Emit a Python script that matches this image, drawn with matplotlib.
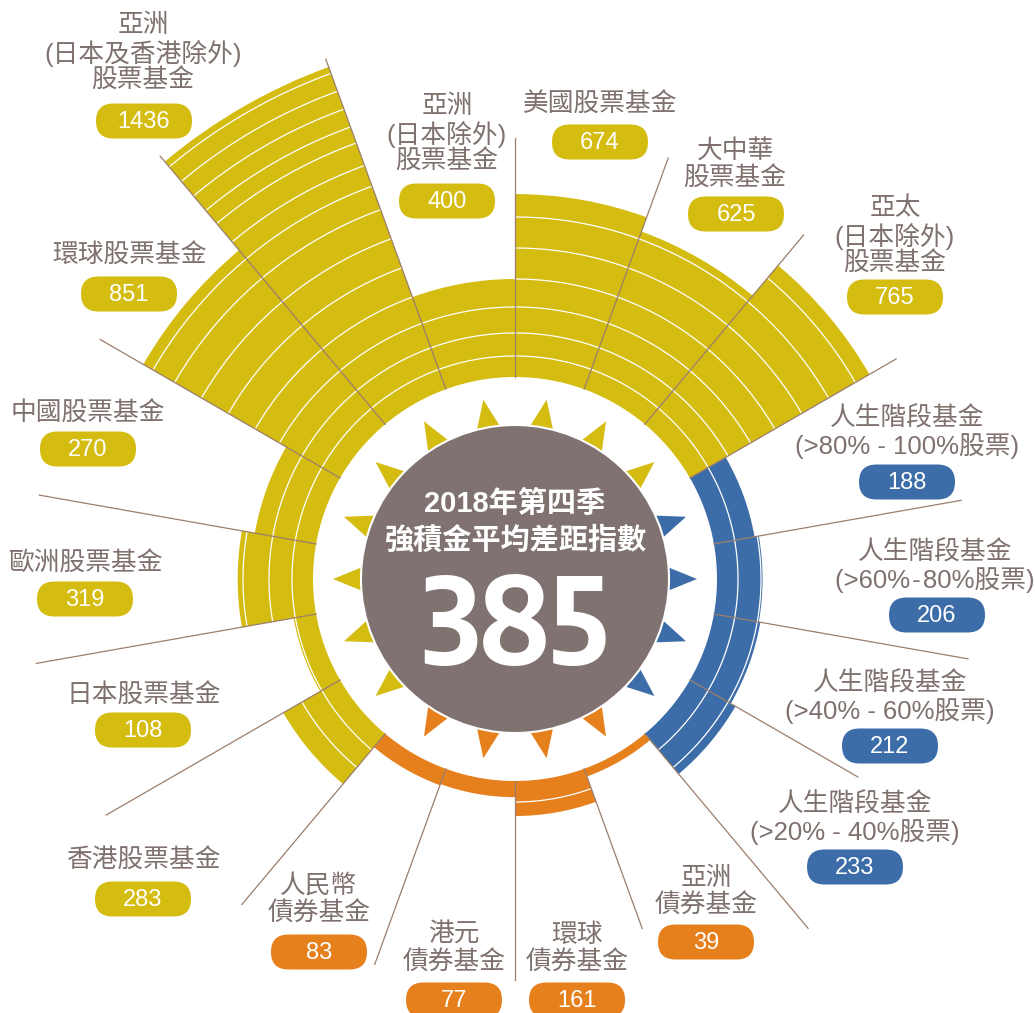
import numpy as np
import matplotlib
matplotlib.use("Agg")
import matplotlib.pyplot as plt
from matplotlib import font_manager
from matplotlib.font_manager import FontProperties
from matplotlib.textpath import TextPath
from matplotlib.patches import Circle, Polygon, FancyBboxPatch

# MPF fund categories, clockwise from 12 o'clock
funds = ["美國股票基金", "大中華股票基金", "亞太(日本除外)股票基金",
         "人生階段基金(>80% - 100%股票)", "人生階段基金(>60% - 80%股票)",
         "人生階段基金(>40% - 60%股票)", "人生階段基金(>20% - 40%股票)",
         "亞洲債券基金", "環球債券基金", "港元債券基金", "人民幣債券基金",
         "香港股票基金", "日本股票基金", "歐洲股票基金", "中國股票基金",
         "環球股票基金", "亞洲(日本及香港除外)股票基金", "亞洲(日本除外)股票基金"]
values = [674, 625, 765, 188, 206, 212, 233, 39, 161, 77, 83,
          283, 108, 319, 270, 851, 1436, 400]
groups = ["equity"] * 3 + ["lifestyle"] * 4 + ["bond"] * 4 + ["equity"] * 7
label_lines = [
    ["美國股票基金"],
    ["大中華", "股票基金"],
    ["亞太", "(日本除外)", "股票基金"],
    ["人生階段基金", "(>80% - 100%股票)"],
    ["人生階段基金", "(>60%\u200a-\u200a80%股票)"],
    ["人生階段基金", "(>40% - 60%股票)"],
    ["人生階段基金", "(>20% - 40%股票)"],
    ["亞洲", "債券基金"],
    ["環球", "債券基金"],
    ["港元", "債券基金"],
    ["人民幣", "債券基金"],
    ["香港股票基金"],
    ["日本股票基金"],
    ["歐洲股票基金"],
    ["中國股票基金"],
    ["環球股票基金"],
    ["亞洲", "(日本及香港除外)", "股票基金"],
    ["亞洲", "(日本除外)", "股票基金"],
]
title_lines = ["2018年第四季", "強積金平均差距指數"]
index_value = 385

# ---- layout (pixels, image coords with y going down) ----
W, H = 1035, 1013
CX, CY = 515, 579
R_AX = 560
RING_STEP = 100
# radius of every 100-point ring as drawn in the original (not quite linear)
RING_PX = np.array([202, 223, 246, 272, 300, 331, 362, 393, 418, 440,
                    464, 481, 500, 519, 538], dtype=float)
RING_V = np.arange(len(RING_PX)) * RING_STEP

label_xy = [(600, 105), (735, 151), (895, 208), (907, 418), (935, 552), (890, 683),
            (855, 804), (706, 878), (577, 935), (454, 935), (319, 886), (143, 861),
            (144, 696), (86, 564), (88, 414), (130, 256), (143, 25), (447, 106)]
pill_xy = [(600, 142), (736, 214), (895, 297), (907, 482), (937, 615), (890, 746),
           (855, 867), (706, 942), (577, 1000), (454, 1000), (319, 952), (143, 899),
           (143, 730), (85, 599), (88, 449), (129, 294), (144, 121), (447, 201)]
LINE_GAP = 28
PILL_W, PILL_H = 96, 35
# outer end of the separator line at each sector boundary (90, 70, 50 ... deg)
sep_end = [441, 448, 449, 440, 453, 460, 396, 456, 372, 401,
           410, 425, 472, 486, 483, 479, 552, 553]
BIG_H, BIG_W = 92, 182   # ink size of the big index number, px

COLORS = {"equity": "#D4BC10", "lifestyle": "#3D6DA8", "bond": "#E5801D"}
GREY = "#807270"
TEXT = "#7F716D"
SEP = "#9B7E6C"
LBL_FONT = ["Liberation Sans", "Noto Sans CJK TC"]


def big_number_font(s):
    # plain-bold sans whose proportions come closest to the original's narrow digits
    target = BIG_W / BIG_H
    best = None
    for f in font_manager.fontManager.ttflist:
        nm = f.name.lower()
        w = f.weight if isinstance(f.weight, int) else font_manager.weight_dict.get(f.weight, 400)
        if not 700 <= w <= 750 or "mono" in nm or "cjk" in nm or "serif" in nm.replace("sans", ""):
            continue
        if not any(k in nm for k in ("sans", "roboto", "lato", "inter", "arial")):
            continue
        try:
            ext = TextPath((0, 0), s, size=100, prop=FontProperties(fname=f.fname)).get_extents()
        except Exception:
            continue
        if ext.height <= 0:
            continue
        score = abs(ext.width / ext.height - target)
        if best is None or score < best[0]:
            best = (score, f.fname, ext.width, ext.height)
    if best is None:
        return FontProperties(family="Liberation Sans", weight="bold", size=86)
    _, fname, w100, h100 = best
    size_px = min(BIG_H / h100, BIG_W / w100) * 100
    return FontProperties(fname=fname, size=size_px * 72 / 100)


big_prop = big_number_font(str(index_value))


def to_px(v):
    v = np.asarray(v, dtype=float)
    r = np.interp(v, RING_V, RING_PX)
    lo_slope = (RING_PX[1] - RING_PX[0]) / RING_STEP
    hi_slope = (RING_PX[-1] - RING_PX[-2]) / RING_STEP
    r = np.where(v < RING_V[0], RING_PX[0] + (v - RING_V[0]) * lo_slope, r)
    r = np.where(v > RING_V[-1], RING_PX[-1] + (v - RING_V[-1]) * hi_slope, r)
    return r


def from_px(r):
    r = np.asarray(r, dtype=float)
    v = np.interp(r, RING_PX, RING_V)
    lo_slope = (RING_PX[1] - RING_PX[0]) / RING_STEP
    hi_slope = (RING_PX[-1] - RING_PX[-2]) / RING_STEP
    v = np.where(r < RING_PX[0], RING_V[0] + (r - RING_PX[0]) / lo_slope, v)
    v = np.where(r > RING_PX[-1], RING_V[-1] + (r - RING_PX[-1]) / hi_slope, v)
    return v


fig = plt.figure(figsize=(W / 100, H / 100), dpi=100)

# radial bars
ax = fig.add_axes([(CX - R_AX) / W, (H - CY - R_AX) / H, 2 * R_AX / W, 2 * R_AX / H],
                  projection="polar")
ax.set_rscale("function", functions=(to_px, from_px))
n = len(values)
theta = np.deg2rad(80 - 20 * np.arange(n))
width = np.deg2rad(20)
colors = [COLORS[g] for g in groups]
ax.bar(theta, values, width=width, bottom=0, color=colors, linewidth=0)
for t, v in zip(theta, values):
    tt = np.linspace(t - width / 2, t + width / 2, 60)
    for k in np.arange(RING_STEP, v, RING_STEP):
        ax.plot(tt, np.full_like(tt, k), color="white", lw=0.9)
ax.set_rlim(float(from_px(0)), float(from_px(R_AX)))
ax.grid(False)
ax.set_axis_off()

# overlay in pixel coords
ov = fig.add_axes([0, 0, 1, 1])
ov.set_xlim(0, W)
ov.set_ylim(H, 0)
ov.axis("off")
ov.patch.set_alpha(0)

for j, r_end in enumerate(sep_end):
    a = np.deg2rad(90 - 20 * j)
    rr = np.array([RING_PX[0], r_end])
    ov.plot(CX + rr * np.cos(a), CY - rr * np.sin(a), color=SEP, lw=0.9, zorder=3)

# sun rays
for t, c in zip(theta, colors):
    tip = (CX + 182 * np.cos(t), CY - 182 * np.sin(t))
    bx, by = CX + 150 * np.cos(t), CY - 150 * np.sin(t)
    px, py = -np.sin(t) * 13, -np.cos(t) * 13
    ov.add_patch(Polygon([tip, (bx + px, by + py), (bx - px, by - py)],
                         closed=True, fc=c, ec="none", zorder=2))

ov.add_patch(Circle((CX, CY), 154, fc=GREY, ec="white", lw=1.5, zorder=4))
ov.text(CX, 504, title_lines[0], color="white", fontsize=21, fontweight="bold",
        family=LBL_FONT, ha="center", va="center", zorder=5)
ov.text(CX, 540, title_lines[1], color="white", fontsize=21, fontweight="bold",
        family=LBL_FONT, ha="center", va="center", zorder=5)
ov.text(CX, 665, str(index_value), color="white", fontproperties=big_prop,
        ha="center", va="baseline", zorder=5)

# labels and value pills
for lines, (lx, ly), (px_, py_), v, c in zip(label_lines, label_xy, pill_xy, values, colors):
    for i, s in enumerate(lines):
        ov.text(lx, ly + i * LINE_GAP, s, color=TEXT, fontsize=18.5, family=LBL_FONT,
                ha="center", va="center", zorder=5)
    ov.add_patch(FancyBboxPatch((px_ - PILL_W / 2, py_ - PILL_H / 2), PILL_W, PILL_H,
                                boxstyle=f"round,pad=0,rounding_size={PILL_H / 2}",
                                fc=c, ec="none", zorder=5))
    ov.text(px_, py_ + 1, str(v), color="white", fontsize=17, family="Liberation Sans",
            ha="center", va="center", zorder=6)

fig.savefig("out.png", dpi=100)
